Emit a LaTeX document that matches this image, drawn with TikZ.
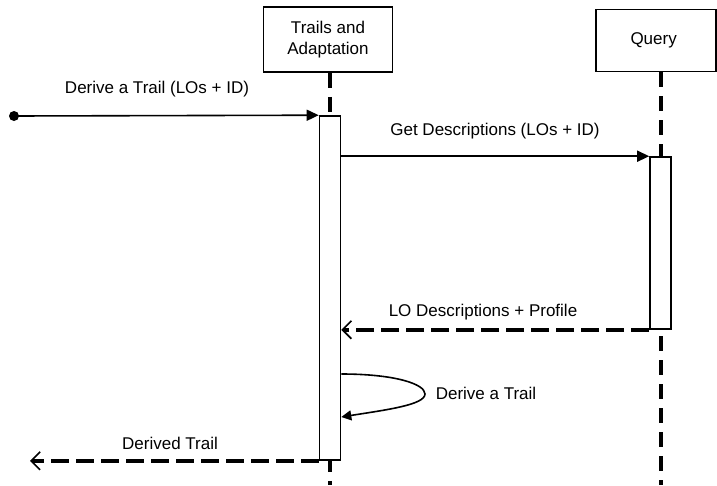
\documentclass[tikz,border=0pt]{standalone}
\usepackage{fontspec}
\setmainfont{Liberation Sans}
\usepackage{tikz}
\usetikzlibrary{positioning, calc}
\usetikzlibrary{arrows.meta}

\tikzset{
    lifebox/.style={draw, line width=1.6pt, align=center, inner sep=0pt,
        font=\fontsize{17}{21}\selectfont},
    actbar/.style={draw, fill=white, line width=1.6pt, minimum width=21pt, inner sep=0pt},
    lifeline/.style={line width=3.6pt, dash pattern=on 15pt off 9pt},
    callmsg/.style={line width=1.6pt, -{Triangle[length=12pt,width=11pt]}},
    replymsg/.style={line width=3.6pt, dash pattern=on 18pt off 7pt,
        -{Straight Barb[length=9pt,width=18pt,line width=1.6pt]}},
    msglabel/.style={inner sep=0pt, font=\fontsize{17}{21}\selectfont},
}

\begin{document}
\begin{tikzpicture}[x=1pt, y=-1pt]

    \useasboundingbox (0,0) rectangle (717,485);

    % \node[] (actor) {User};

    \node[lifebox, minimum width=129pt, minimum height=65pt] (trails) at (328,39.5) {
    Trails and\\
    Adaptation
    };
    \node[lifebox, minimum width=120pt, minimum height=62pt] (query) at (656,40.5) {
    Query
    };

    % ----------

    \coordinate (trailsend) at (330,485);
    \coordinate (queryend) at (661,485);
    \draw[lifeline] (trails.south -| trailsend) -- (trailsend);
    \draw[lifeline] (query.south -| queryend) -- (queryend);

    \node[actbar, minimum height=344pt] (trailsbar) at (330,288) {};
    \node[actbar, minimum height=172pt] (querybar) at (660.5,243) {};

    % ----------

    \coordinate (start) at (14,116);
    \fill (start) circle (5pt);
    \draw[callmsg] (start) -- (trailsbar.north west);
    \node[msglabel] (derivelbl) at (157,89) {Derive a Trail (LOs + ID)};

    % ----------

    \draw[callmsg] (trailsbar.east |- querybar.north) -- (querybar.north west);
    \node[msglabel] (getlbl) at (495,131) {Get Descriptions (LOs + ID)};

    % ----------

    \draw[replymsg] (querybar.south west) -- (querybar.south west -| trailsbar.east);
    \node[msglabel] (profilelbl) at (483,312) {LO Descriptions + Profile};

    % -------

    \coordinate (selfout) at (trailsbar.east |- 0,374);
    \coordinate (selfin) at (trailsbar.east |- 0,417);
    \draw[line width=1.6pt, -{Triangle[length=10pt,width=10pt]}] (selfout)
        .. controls (395,374) and (425,384) .. (425,394)
        .. controls (425,405) and (385,410) .. (selfin);
    \node[msglabel] (selflbl) at (486,393) {Derive a Trail};

    % -------

    \coordinate (exit) at (30,460);
    \draw[replymsg] (trailsbar.south west) -- (trailsbar.south west -| exit);
    \node[msglabel] (derivedlbl) at (170,443) {Derived Trail};

\end{tikzpicture}
\end{document}
